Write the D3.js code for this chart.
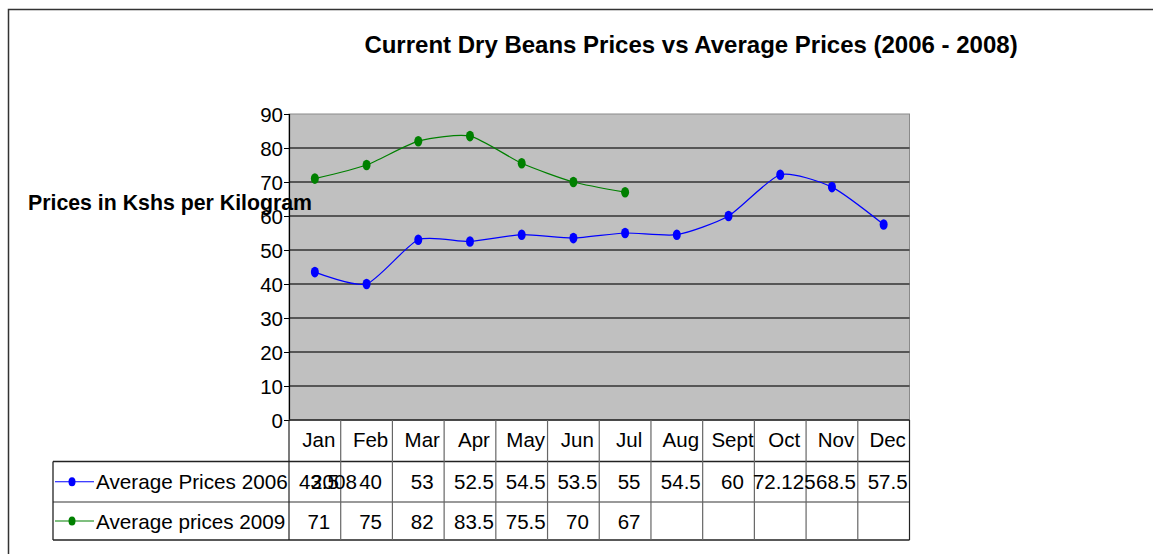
<!DOCTYPE html>
<html>
<head>
<meta charset="utf-8">
<script src="https://cdn.jsdelivr.net/npm/d3@7"></script>
<style>
  body { margin: 0; background: #fff; }
  text { font-family: "Liberation Sans", Arial, sans-serif; }
</style>
</head>
<body>
<div id="chart"></div>
<script>
// Data
const months = ['Jan', 'Feb', 'Mar', 'Apr', 'May', 'Jun', 'Jul', 'Aug', 'Sept', 'Oct', 'Nov', 'Dec']
const prices2006 = [43.5, 40, 53, 52.5, 54.5, 53.5, 55, 54.5, 60, 72.125, 68.5, 57.5]
const prices2009 = [71, 75, 82, 83.5, 75.5, 70, 67]
const seriesNames = ['Average Prices 2006', 'Average prices 2009']
const nameSpill = ['2008', '']
const seriesColors = ['#0000ff', '#008000']
const yTicks = [0, 10, 20, 30, 40, 50, 60, 70, 80, 90]

const series = [prices2006, prices2009]

// Dimensions
const dimensions = {
  width: 1153,
  height: 554,
  plotLeft: 289,
  plotRight: 909.5,
  plotTop: 114,
  plotBottom: 420,
  legendLeft: 53,
  rows: [420, 461.5, 502, 540],
}

const svg = d3.select('#chart')
  .append('svg')
  .attr('width', dimensions.width)
  .attr('height', dimensions.height)

// outer frame (runs off the page right and bottom)
svg.append('rect')
  .attr('x', 8.5).attr('y', 9.5)
  .attr('width', 1300).attr('height', 700)
  .attr('fill', 'none')
  .attr('stroke', '#333')
  .attr('stroke-width', 1.5)

// Scales
const xScale = d3.scaleBand()
  .domain(months)
  .range([dimensions.plotLeft, dimensions.plotRight])

const yScale = d3.scaleLinear()
  .domain([0, 90])
  .range([dimensions.plotBottom, dimensions.plotTop])

const xMid = d => xScale(d) + xScale.bandwidth() / 2

// Plot area
svg.append('rect')
  .attr('x', dimensions.plotLeft)
  .attr('y', dimensions.plotTop)
  .attr('width', dimensions.plotRight - dimensions.plotLeft)
  .attr('height', dimensions.plotBottom - dimensions.plotTop)
  .attr('fill', '#c0c0c0')
  .attr('stroke', '#8a8a8a')

// gridlines
svg.append('g')
  .selectAll('line')
  .data(yTicks.filter(d => d > 0 && d < 90))
  .join('line')
  .attr('x1', dimensions.plotLeft)
  .attr('x2', dimensions.plotRight)
  .attr('y1', d => yScale(d))
  .attr('y2', d => yScale(d))
  .attr('stroke', '#333')
  .attr('stroke-width', 1.3)

// Y axis
const yAxis = d3.axisLeft(yScale)
  .tickValues(yTicks)
  .tickSize(5)
  .tickPadding(1)

const yAxisGroup = svg.append('g')
  .attr('transform', `translate(${dimensions.plotLeft}, 0)`)
  .call(yAxis)

yAxisGroup.select('.domain').attr('stroke', '#000').attr('stroke-width', 1.2)
yAxisGroup.selectAll('.tick line').attr('stroke', '#000')
yAxisGroup.selectAll('.tick text')
  .attr('font-family', '"Liberation Sans", Arial, sans-serif')
  .attr('font-size', 20.5)
  .attr('fill', '#000')
  .attr('dy', '0.36em')

// Lines (Excel-like smoothing)
const lineGenerator = d3.line()
  .x((d, i) => xMid(months[i]))
  .y(d => yScale(d))
  .curve(d3.curveCardinal.tension(0.35))

series.forEach((values, s) => {
  svg.append('path')
    .datum(values)
    .attr('d', lineGenerator)
    .attr('fill', 'none')
    .attr('stroke', seriesColors[s])
    .attr('stroke-width', 1.2)

  svg.append('g')
    .selectAll('ellipse')
    .data(values)
    .join('ellipse')
    .attr('cx', (d, i) => xMid(months[i]))
    .attr('cy', d => yScale(d))
    .attr('rx', 4)
    .attr('ry', 5.3)
    .attr('fill', seriesColors[s])
})

// Data table
const table = svg.append('g')
const rows = dimensions.rows

// bottom axis line
table.append('line')
  .attr('x1', dimensions.plotLeft).attr('x2', dimensions.plotRight)
  .attr('y1', rows[0]).attr('y2', rows[0])
  .attr('stroke', '#222').attr('stroke-width', 1.5)

// horizontal rules
table.selectAll('.hrule')
  .data(rows.slice(1))
  .join('line')
  .attr('x1', dimensions.legendLeft).attr('x2', dimensions.plotRight)
  .attr('y1', d => d).attr('y2', d => d)
  .attr('stroke', (d, i) => i === 1 ? '#777' : '#222')
  .attr('stroke-width', 1.3)

// vertical rules
const bounds = months.map(m => xScale(m)).concat([dimensions.plotRight])
table.selectAll('.vrule')
  .data(bounds)
  .join('line')
  .attr('x1', d => d).attr('x2', d => d)
  .attr('y1', rows[0]).attr('y2', rows[3])
  .attr('stroke', (d, i) => (i === 0 || i === bounds.length - 1) ? '#222' : '#666')
  .attr('stroke-width', 1.2)

table.append('line')
  .attr('x1', dimensions.legendLeft).attr('x2', dimensions.legendLeft)
  .attr('y1', rows[1]).attr('y2', rows[3])
  .attr('stroke', '#222').attr('stroke-width', 1.3)

const cellText = (x, y, txt) => table.append('text')
  .attr('x', x).attr('y', y)
  .attr('text-anchor', 'middle')
  .attr('font-size', 20.5)
  .attr('fill', '#000')
  .text(txt)

months.forEach(m => cellText(xMid(m) + 4, 447, m))

series.forEach((values, s) => {
  const y = s === 0 ? 489 : 529
  values.forEach((v, i) => cellText(xMid(months[i]) + 4, y, v))

  // legend key
  const cy = (rows[s + 1] + rows[s + 2]) / 2
  table.append('line')
    .attr('x1', 55).attr('x2', 94)
    .attr('y1', cy).attr('y2', cy)
    .attr('stroke', seriesColors[s]).attr('stroke-width', 1.2)
  table.append('ellipse')
    .attr('cx', 72).attr('cy', cy)
    .attr('rx', 3.5).attr('ry', 4.5)
    .attr('fill', seriesColors[s])
  table.append('text')
    .attr('x', 96).attr('y', y)
    .attr('font-size', 20.7)
    .attr('fill', '#000')
    .text(seriesNames[s])
  table.append('text')
    .attr('x', 311).attr('y', y)
    .attr('font-size', 20.7)
    .attr('fill', '#000')
    .text(nameSpill[s])
})

// Titles
svg.append('text')
  .attr('x', 691).attr('y', 53)
  .attr('text-anchor', 'middle')
  .attr('font-size', 24)
  .attr('font-weight', 'bold')
  .text('Current Dry Beans Prices vs Average Prices (2006 - 2008)')

svg.append('text')
  .attr('x', 28).attr('y', 210)
  .attr('font-size', 21.3)
  .attr('font-weight', 'bold')
  .text('Prices in Kshs per Kilogram')
</script>
</body>
</html>
